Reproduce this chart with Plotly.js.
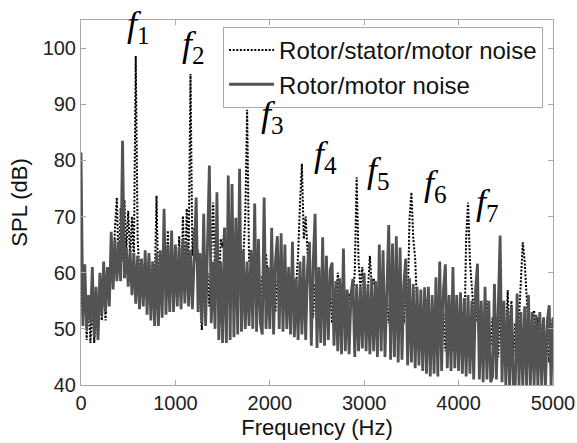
<!DOCTYPE html>
<html>
<head>
<meta charset="utf-8">
<script src="https://cdn.plot.ly/plotly-3.0.1.min.js"></script>
<style>
  html, body { margin: 0; padding: 0; background: #fff; }
  #chart { width: 577px; height: 443px; }
</style>
</head>
<body>
<div id="chart"></div>
<script>
// Frequency resolution of the read-off spectrum (Hz)
const freqStep = 20;

// Rotor/stator/motor noise (dotted), SPL in dB, 0..5000 Hz every 20 Hz
const statorSPL = [
  58, 52, 58, 48, 56, 47.5, 55, 47.5, 53, 48.5,
  56, 51.5, 58, 51.5, 60, 55, 63, 58, 68, 73.4,
  60, 71.5, 62, 73, 64, 71, 63, 70, 62, 98.6,
  66, 59.5, 61, 59.8, 62, 58, 63, 56, 62, 57,
  73.7, 56, 62, 55, 64.9, 56, 67.5, 55, 63, 56,
  64.5, 56, 66.5, 57, 70.1, 58, 71.4, 62, 95.4, 63,
  68, 62, 64, 55, 49.8, 58, 53, 60, 54, 62,
  72.5, 60, 68, 56, 66, 64.5, 68, 55, 60, 53,
  62, 54, 61, 55, 62, 56, 63, 70, 89, 62,
  64, 61.5, 63, 56, 60, 55, 59.5, 57, 63.4, 59.2,
  58, 54, 60, 53, 59, 56.3, 62, 56.3, 60, 53,
  59, 52, 60, 53, 58, 63.3, 72.3, 79.4, 66, 70,
  63.5, 58, 57, 52, 58, 51, 57, 51, 58, 50,
  56, 50, 57, 51, 55, 52, 60, 55, 58, 52,
  56, 53.9, 56.3, 54, 56, 60, 77, 62, 57.4, 61,
  55, 54, 57, 63, 57.4, 59, 57, 52, 56, 51,
  55, 50, 56, 51, 55, 50, 56, 51, 54, 50,
  55, 51, 56.5, 54, 69.6, 74.3, 66, 62.5, 54, 50,
  54, 49, 56, 55, 53, 48, 52, 47, 53, 47,
  54, 47, 53, 46, 52, 47, 53, 46, 52, 47,
  52, 46, 53, 47, 66.3, 72.5, 62, 57.4, 53, 51.2,
  54, 51.2, 52, 46, 53, 55, 50, 47, 52, 46,
  52, 45, 53, 46, 51, 48, 56.9, 48, 55, 45,
  51, 45, 52, 60, 65.4, 62, 56, 50, 47, 52,
  53.3, 47, 52, 46, 50, 52, 45, 51, 44, 50,
  52
];

// Rotor/motor noise (solid gray), SPL in dB, 0..5000 Hz every 20 Hz
const rotorSPL = [
  81.4, 50.5, 61.5, 49.8, 56, 51, 61, 48.5, 57.5, 48,
  60, 52.5, 62, 53, 61, 54, 67.3, 57, 66, 58.5,
  65.5, 58.5, 83.5, 59, 64.5, 57.5, 64, 56, 63.5, 54.5,
  63, 53.5, 62.5, 54, 64, 52.5, 63.5, 51.5, 62, 50.5,
  63.5, 50.5, 64, 52, 71.4, 52.5, 65, 53, 67.5, 53,
  65, 54, 64.5, 53.5, 66, 54.5, 65.5, 54, 64, 53.5,
  63, 73.4, 53, 63.5, 51, 70.5, 50.5, 62.5, 79.1, 51,
  62, 50, 74.3, 48, 62, 47.5, 68, 47.5, 77.3, 48,
  75.8, 48.5, 69.8, 49, 78.5, 49.5, 64, 50, 62, 50.5,
  64, 50, 72.3, 49.5, 66, 51, 49, 73.4, 50, 61,
  50, 68, 49, 62, 66.5, 50, 67, 49.5, 65, 50,
  61, 49, 65.5, 48.5, 59, 48, 62, 49, 63, 48,
  61, 65.5, 47, 62, 70.5, 46.6, 61, 47.5, 66.3, 47,
  63, 48, 60.5, 61.8, 47, 58.5, 46, 59, 45.5, 64.3,
  46, 57, 45.5, 56, 58.9, 45, 58, 46, 57.5, 46.5,
  60, 46, 58, 45.5, 59, 46, 58.5, 45, 65, 46,
  64, 45, 59, 68.5, 44.5, 65.2, 45, 66.5, 44, 64.5,
  44.5, 58, 62.5, 43.5, 59, 44, 58, 43, 57.5, 43.5,
  57, 42.5, 57.4, 42, 57.5, 41.5, 56, 42, 59.2, 41.5,
  62, 42.5, 57, 61.5, 43, 56, 42.5, 61, 43, 56,
  42.5, 56.5, 42, 55.5, 41.5, 56, 42, 55, 41, 57,
  61.6, 41, 55, 40.5, 57.5, 41, 55, 40.5, 41.5, 58,
  41, 54, 66.6, 40.5, 55, 40, 53.5, 39.5, 54, 40,
  39.5, 56.3, 40, 53, 39.5, 54, 40, 56, 39.5, 53,
  40, 52.5, 39.5, 53, 40, 52, 39.5, 51.5, 54.2, 40,
  52
];

const seriesNames = ['Rotor/stator/motor noise', 'Rotor/motor noise'];

// Harmonic labels f1..f7
const harmonicIdx = ['1', '2', '3', '4', '5', '6', '7'];
const harmonicLabelX = [609, 1192, 2029, 2595, 3151, 3760, 4301];
const harmonicLabelY = [103.8, 100.3, 87.8, 80.7, 77.8, 75.5, 72.2];

const xTicks = [0, 1000, 2000, 3000, 4000, 5000];
const yTicks = [40, 50, 60, 70, 80, 90, 100];

const freq = statorSPL.map((_, i) => i * freqStep);

const traces = [
  {
    x: freq, y: statorSPL, name: seriesNames[0], type: 'scatter', mode: 'lines',
    line: { color: '#000000', width: 2, dash: '2px,1.6px' }
  },
  {
    x: freq, y: rotorSPL, name: seriesNames[1], type: 'scatter', mode: 'lines',
    line: { color: '#535353', width: 2.8 }
  }
];

const annotations = harmonicIdx.map((k, i) => ({
  x: harmonicLabelX[i], y: harmonicLabelY[i], xref: 'x', yref: 'y',
  text: '<i>f</i><sub>' + k + '</sub>', showarrow: false,
  font: { family: 'Liberation Serif', size: 36, color: '#000' },
  xanchor: 'center', yanchor: 'middle'
}));

const axisCommon = {
  showgrid: false, zeroline: false, showline: true, mirror: 'ticks',
  linecolor: '#a8a8a8', linewidth: 1, ticks: 'inside', ticklen: 5,
  tickcolor: '#a8a8a8', tickfont: { family: 'Liberation Sans, Arial, sans-serif', size: 20, color: '#222' }
};

const layout = {
  width: 577, height: 443,
  margin: { l: 81, r: 24, t: 20, b: 58 },
  paper_bgcolor: '#fff', plot_bgcolor: '#fff',
  showlegend: true,
  xaxis: Object.assign({}, axisCommon, {
    range: [0, 5000], tickvals: xTicks, ticktext: xTicks.map(String),
    title: { text: 'Frequency (Hz)', font: { family: 'Liberation Sans, Arial, sans-serif', size: 22, color: '#111' }, standoff: 6 }
  }),
  yaxis: Object.assign({}, axisCommon, {
    range: [40, 105], tickvals: yTicks, ticktext: yTicks.map(String),
    title: { text: 'SPL (dB)', font: { family: 'Liberation Sans, Arial, sans-serif', size: 22, color: '#111' }, standoff: 8 }
  }),
  legend: {
    x: 0.979, y: 0.981, xanchor: 'right', yanchor: 'top',
    bgcolor: '#fff', bordercolor: '#a8a8a8', borderwidth: 1,
    font: { family: 'Liberation Sans, Arial, sans-serif', size: 24, color: '#111' },
    itemwidth: 45, tracegroupgap: 0
  },
  annotations: annotations,
  hovermode: false
};

Plotly.newPlot('chart', traces, layout, { displayModeBar: false, staticPlot: true });
</script>
</body>
</html>
